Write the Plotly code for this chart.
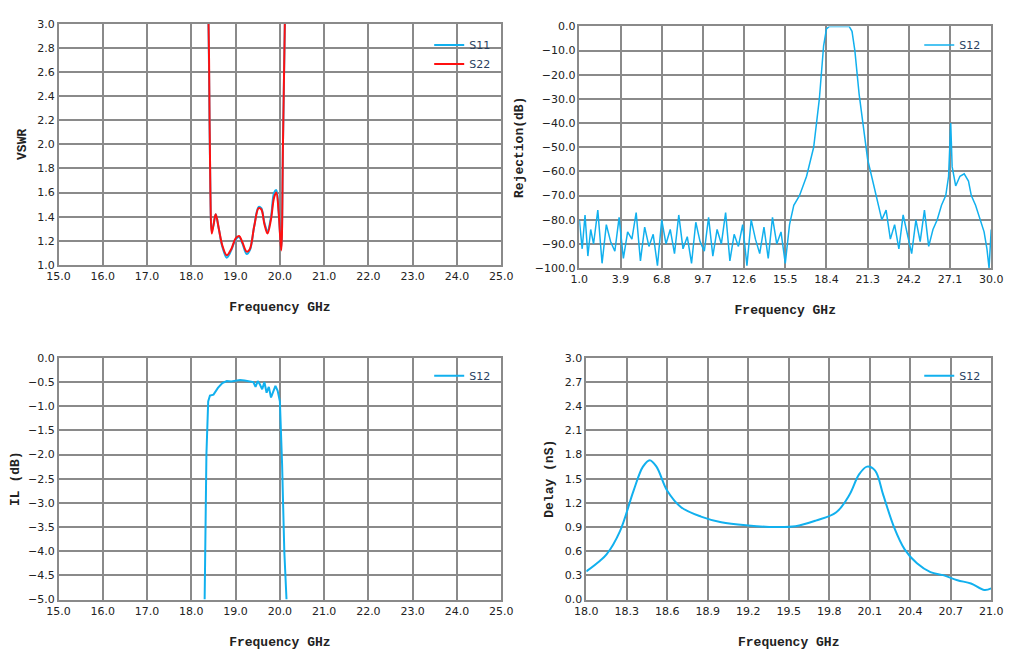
import plotly.graph_objects as go

# VSWR
vswr_f = [18.38, 18.40, 18.43, 18.46, 18.50, 18.55, 18.62, 18.70, 18.80, 18.90, 19.00, 19.08, 19.15, 19.25, 19.32, 19.42, 19.52, 19.58, 19.65, 19.72, 19.80, 19.87, 19.92, 19.97, 20.03, 20.07, 20.12]
s11 = [3.2, 2.6, 1.6, 1.28, 1.33, 1.42, 1.30, 1.15, 1.06, 1.12, 1.21, 1.23, 1.18, 1.09, 1.12, 1.32, 1.48, 1.47, 1.35, 1.28, 1.40, 1.60, 1.62, 1.45, 1.14, 2.0, 3.2]
s22 = [3.2, 2.7, 1.6, 1.26, 1.33, 1.42, 1.30, 1.16, 1.08, 1.13, 1.22, 1.24, 1.19, 1.11, 1.13, 1.32, 1.47, 1.46, 1.34, 1.26, 1.38, 1.56, 1.60, 1.45, 1.12, 2.0, 3.2]

# Rejection
rej_f = [1.0, 1.2, 1.4, 1.6, 1.8, 2.0, 2.3, 2.6, 2.9, 3.2, 3.5, 3.8, 4.1, 4.4, 4.7, 5.0, 5.3, 5.6, 5.9, 6.2, 6.5, 6.8, 7.1, 7.4, 7.7, 8.0, 8.3, 8.6, 8.9, 9.2, 9.5, 9.8, 10.1, 10.4, 10.7, 11.0, 11.3, 11.6, 11.9, 12.2, 12.5, 12.8, 13.1, 13.4, 13.7, 14.0, 14.3, 14.6, 14.9, 15.2, 15.5, 15.8, 16.1, 16.5, 17.0, 17.5, 17.9, 18.2, 18.4, 18.6, 19.0, 19.5, 20.0, 20.2, 20.4, 20.7, 21.0, 21.3, 21.7, 22.0, 22.3, 22.6, 22.9, 23.2, 23.5, 23.8, 24.1, 24.4, 24.7, 25.0, 25.3, 25.6, 25.9, 26.2, 26.5, 26.8, 27.0, 27.15, 27.25, 27.35, 27.5, 27.8, 28.1, 28.4, 28.6, 28.9, 29.2, 29.5, 29.7, 29.85, 30.0]
rej = [-80, -92, -78, -95, -84, -90, -76, -98, -82, -89, -93, -79, -96, -85, -88, -77, -97, -83, -91, -86, -99, -80, -90, -84, -94, -78, -92, -87, -98, -81, -89, -93, -79, -95, -84, -90, -77, -97, -86, -91, -82, -99, -80, -88, -94, -83, -96, -79, -90, -85, -98, -82, -74, -70, -62, -50, -30, -8, -1, 0, 0, 0, 0, -2, -10, -28, -42, -55, -65, -72, -80, -76, -88, -82, -92, -78, -86, -94, -80, -89, -76, -91, -84, -80, -74, -70, -62, -40, -58, -62, -66, -62, -61, -64, -70, -74, -80, -85, -92, -100, -84]

# Insertion loss
il_f = [18.30, 18.34, 18.38, 18.42, 18.50, 18.60, 18.70, 18.80, 18.90, 19.00, 19.10, 19.20, 19.30, 19.40, 19.45, 19.50, 19.55, 19.60, 19.65, 19.70, 19.75, 19.80, 19.85, 19.90, 19.95, 20.00, 20.05, 20.10, 20.15]
il = [-5.0, -2.0, -0.9, -0.78, -0.76, -0.62, -0.52, -0.48, -0.49, -0.47, -0.46, -0.47, -0.48, -0.50, -0.60, -0.48, -0.55, -0.65, -0.50, -0.72, -0.60, -0.82, -0.70, -0.58, -0.68, -0.90, -2.2, -4.0, -5.0]

# Group delay
dl_f = [18.0, 18.1, 18.15, 18.25, 18.35, 18.42, 18.47, 18.52, 18.60, 18.70, 18.85, 19.0, 19.2, 19.4, 19.55, 19.7, 19.85, 19.95, 20.02, 20.08, 20.14, 20.2, 20.28, 20.36, 20.45, 20.55, 20.65, 20.75, 20.85, 20.95, 21.0]
dl = [0.35, 0.48, 0.56, 0.85, 1.35, 1.65, 1.73, 1.65, 1.35, 1.15, 1.03, 0.96, 0.92, 0.90, 0.91, 0.98, 1.08, 1.30, 1.55, 1.65, 1.60, 1.30, 0.90, 0.62, 0.45, 0.34, 0.30, 0.24, 0.20, 0.12, 0.14]

BLUE = '#11B0EE'
RED = '#FF1010'
GRID = '#8a8a8a'
tick_font = dict(family='DejaVu Sans', size=11, color='#222')
title_font = dict(family='Liberation Mono', size=13, color='#222')

fig = go.Figure()
fig.add_trace(go.Scatter(x=vswr_f, y=s11, name='S11', line=dict(color=BLUE, width=2, shape='spline'), xaxis='x', yaxis='y', legend='legend'))
fig.add_trace(go.Scatter(x=vswr_f, y=s22, name='S22', line=dict(color=RED, width=2, shape='spline'), xaxis='x', yaxis='y', legend='legend'))
fig.add_trace(go.Scatter(x=rej_f, y=rej, name='S12', line=dict(color=BLUE, width=1.5), xaxis='x2', yaxis='y2', legend='legend2'))
fig.add_trace(go.Scatter(x=il_f, y=il, name='S12', line=dict(color=BLUE, width=2), xaxis='x3', yaxis='y3', legend='legend3'))
fig.add_trace(go.Scatter(x=dl_f, y=dl, name='S12', line=dict(color=BLUE, width=2, shape='spline'), xaxis='x4', yaxis='y4', legend='legend4'))


def ax(domain, rng, dtick, title=None, anchor=None, standoff=8):
    d = dict(domain=domain, range=rng, dtick=dtick, tick0=rng[0], tickformat='.1f',
             showgrid=True, gridcolor=GRID, gridwidth=1.5, showline=True, linecolor=GRID,
             linewidth=1.5, mirror=True, zeroline=False, tickfont=tick_font, ticks='',
             anchor=anchor)
    if title:
        d['title'] = dict(text='<b>' + title + '</b>', font=title_font, standoff=standoff)
    return d


leg = lambda x, y: dict(x=x, y=y, xanchor='right', yanchor='top', bgcolor='rgba(255,255,255,0)',
                        font=dict(family='DejaVu Sans', size=11), tracegroupgap=0, itemwidth=30)

fig.update_layout(
    width=1014, height=668, margin=dict(l=0, r=0, t=0, b=0),
    plot_bgcolor='white', paper_bgcolor='white',
    xaxis=ax([0.039, 0.486], [15, 25], 1, 'Frequency GHz', 'y', 20),
    yaxis=ax([0.617, 0.985], [1, 3], 0.2, 'VSWR', 'x'),
    xaxis2=ax([0.565, 0.981], [1, 30], 2.9, 'Frequency GHz', 'y2', 20),
    yaxis2=ax([0.612, 0.981], [-100, 0], 10, 'Rejection(dB)', 'x2'),
    xaxis3=ax([0.039, 0.486], [15, 25], 1, 'Frequency GHz', 'y3', 20),
    yaxis3=ax([0.106, 0.475], [-5, 0], 0.5, 'IL (dB)', 'x3'),
    xaxis4=ax([0.572, 0.981], [18, 21], 0.3, 'Frequency GHz', 'y4', 20),
    yaxis4=ax([0.106, 0.475], [0, 3], 0.3, 'Delay (nS)', 'x4'),
    legend=leg(0.48, 0.975),
    legend2=leg(0.975, 0.975),
    legend3=leg(0.48, 0.47),
    legend4=leg(0.975, 0.47),
)

fig.write_html("out.html")
